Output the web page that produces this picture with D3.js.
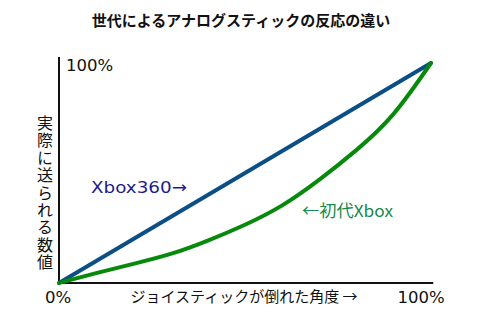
<!DOCTYPE html>
<html><head><meta charset="utf-8">
<script src="https://cdn.jsdelivr.net/npm/d3@7"></script>
<style>
html,body{margin:0;padding:0;background:#fff;}
svg{display:block;}
text{font-family:"DejaVu Sans","Noto Sans CJK JP",sans-serif;}
.jp{font-family:"Noto Sans CJK JP","DejaVu Sans",sans-serif;}
</style>
</head><body>
<script>
const title = "世代によるアナログスティックの反応の違い";
const xLabel = "ジョイスティックが倒れた角度 →";
const yLabel = "実際に送られる数値";
const tickLabels = ["0%", "100%"];
const seriesNames = ["Xbox360→", "←初代Xbox"];
const xbox360X = [0, 100];
const xbox360Y = [0, 100];
const xboxX = [0, 10, 20, 30, 40, 50, 60, 70, 80, 90, 100];
const xboxY = [0, 4.5, 8.7, 13.2, 19.3, 26.5, 35.3, 47, 60.5, 77, 100];

const W = 480, H = 320;
const svg = d3.select("body").append("svg").attr("width", W).attr("height", H);
const x = d3.scaleLinear().domain([0, 100]).range([59, 431]);
const y = d3.scaleLinear().domain([0, 100]).range([283, 63]);

// title
svg.append("text").attr("class","jp").attr("x", 241).attr("y", 26)
  .attr("text-anchor","middle").attr("font-size", 15).attr("font-weight","bold")
  .attr("fill","#111").text(title);

// axes
svg.append("line").attr("x1", x(0)).attr("x2", x(0)).attr("y1", y(0)+1).attr("y2", y(102.7))
  .attr("stroke","#111").attr("stroke-width",2);
svg.append("line").attr("x1", x(0)-1).attr("x2", x(100.6)).attr("y1", y(0)).attr("y2", y(0))
  .attr("stroke","#111").attr("stroke-width",2);

// tick labels
svg.append("text").attr("x", x(0)+7).attr("y", y(100)+3).attr("font-size", 16.5)
  .attr("dominant-baseline","middle").attr("fill","#111").text(tickLabels[1]);
svg.append("text").attr("x", x(0)-1).attr("y", y(0)+15).attr("font-size", 16.5)
  .attr("text-anchor","middle").attr("dominant-baseline","middle").attr("fill","#111").text(tickLabels[0]);
svg.append("text").attr("x", x(100)-10).attr("y", y(0)+15).attr("font-size", 16.5)
  .attr("text-anchor","middle").attr("dominant-baseline","middle").attr("fill","#111").text(tickLabels[1]);

// axis titles
svg.append("text").attr("class","jp").attr("x", 244).attr("y", y(0)+15).attr("font-size", 15)
  .attr("text-anchor","middle").attr("dominant-baseline","middle").attr("fill","#111").text(xLabel);
svg.append("text").attr("class","jp").attr("x", 45).attr("y", 115)
  .attr("font-size", 16).attr("fill","#111")
  .style("writing-mode","vertical-rl").attr("letter-spacing", 1.4).text(yLabel);

// lines
svg.append("path").datum(xbox360X.map((v,i)=>[v, xbox360Y[i]]))
  .attr("d", d3.line().x(d => x(d[0])).y(d => y(d[1])))
  .attr("fill","none").attr("stroke","#0b4f84").attr("stroke-width",4)
  .attr("stroke-linecap","round");
svg.append("path").datum(xboxX.map((v,i)=>[v, xboxY[i]]))
  .attr("d", d3.line().x(d => x(d[0])).y(d => y(d[1])).curve(d3.curveNatural))
  .attr("fill","none").attr("stroke","#078a0b").attr("stroke-width",4)
  .attr("stroke-linecap","round");

// series labels
svg.append("text").attr("x", 91).attr("y", 188).attr("font-size", 16.5)
  .attr("textLength", 96).attr("lengthAdjust","spacingAndGlyphs")
  .attr("dominant-baseline","middle").attr("fill","#1c1c8c").text(seriesNames[0]);
svg.append("text").attr("class","jp").attr("x", 302).attr("y", 213).attr("font-size", 16.5)
  .attr("textLength", 91).attr("lengthAdjust","spacingAndGlyphs")
  .attr("dominant-baseline","middle").attr("fill","#178a4c").text(seriesNames[1]);
</script>
</body></html>
